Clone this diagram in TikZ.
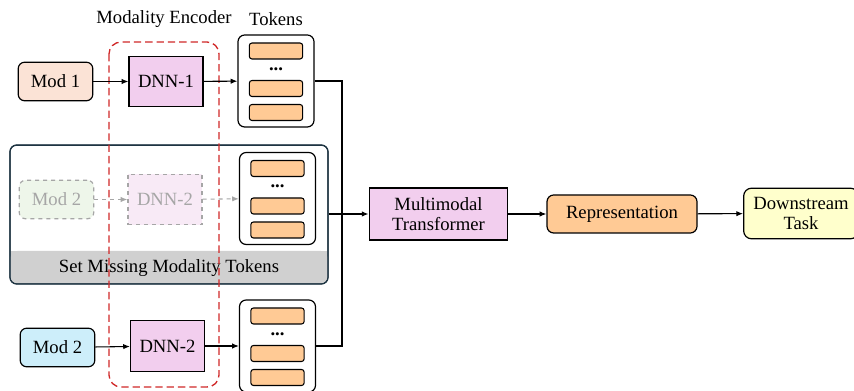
\documentclass[tikz,border=0pt]{standalone}
\usepackage{fontspec}
\setmainfont{Liberation Serif}
\usetikzlibrary{arrows.meta}
\definecolor{modpeach}{HTML}{FBE3D6}
\definecolor{modblue}{HTML}{CDEEFA}
\definecolor{modgreen}{HTML}{EEF6EA}
\definecolor{dnnpink}{HTML}{F2CEEE}
\definecolor{dnnfade}{HTML}{F8EAF6}
\definecolor{tokorange}{HTML}{FFCA95}
\definecolor{taskyellow}{HTML}{FFFFCC}
\definecolor{bandgray}{HTML}{D0D0D0}
\definecolor{panelline}{HTML}{1E3442}
\definecolor{encred}{HTML}{D02828}
\definecolor{fadegray}{HTML}{A6A6A6}
\begin{document}
\begin{tikzpicture}[x=0.75pt, y=-0.75pt,
        every node/.style={font=\rmfamily\fontsize{14}{15}\selectfont},
        mod/.style={draw, line width=0.9pt, rounded corners=5pt, minimum width=56pt, minimum height=29pt},
        dnn/.style={draw, line width=0.9pt, fill=dnnpink, minimum width=55.5pt, minimum height=38pt},
        tokbox/.style={draw, line width=0.9pt, fill=white, rounded corners=5pt, minimum width=57pt, minimum height=69pt},
        tok/.style={draw, line width=0.8pt, fill=tokorange, rounded corners=2pt, minimum width=40pt, minimum height=12pt, inner sep=0pt},
        faded/.style={draw=fadegray, dashed, text=fadegray},
        arr/.style={-{Latex[length=5pt, width=4pt]}, line width=0.8pt}]
    \useasboundingbox (0,0) rectangle (854,391);
    % missing modality panel
    \node (panel) [draw=panelline, line width=0.9pt, fill=white, rounded corners=5pt, minimum width=238.5pt, minimum height=104pt] at (169,214.5) {};
    \fill[bandgray, rounded corners=5pt] (10.6,251) rectangle (327.4,283.4);
    \fill[bandgray] (10.6,251) rectangle (327.4,265);
    \draw[panelline, line width=0.9pt, rounded corners=5pt] (10,145) rectangle (328,284);
    \node (band) at (169,268) {Set Missing Modality Tokens};
    % encoder box
    \draw[encred, line width=1pt, dash pattern=on 5.5pt off 3pt, rounded corners=9pt] (109,42) rectangle (219,387);
    \node (enclabel) at (164,19) {Modality Encoder};
    \node (toklabel) at (276,19) {Tokens};
    % inputs and encoders
    \node (modA) [mod, fill=modpeach] at (55.5,81.5) {Mod 1};
    \node (dnnA) [dnn] at (166,81.5) {DNN-1};
    \node (modB) [mod, faded, fill=modgreen] at (56.5,199.5) {Mod 2};
    \node (dnnB) [dnn, faded, fill=dnnfade] at (165,199.5) {DNN-2};
    \node (modC) [mod, fill=modblue] at (57.5,347.5) {Mod 2};
    \node (dnnC) [dnn] at (167.5,346) {DNN-2};
    % token stacks
    \foreach \n/\x/\y in {tokA/276/81, tokB/277.5/198.5, tokC/277.5/346} {
        \node (\n) [tokbox] at (\x,\y) {};
        \node (\n1) [tok] at (\x,\y-30) {};
        \node (\n d) [inner sep=0pt] at (\x,\y-12) {\textbf{...}};
        \node (\n2) [tok] at (\x,\y+7.5) {};
        \node (\n3) [tok] at (\x,\y+31.5) {};
    }
    % fusion
    \node (trans) [draw, line width=0.9pt, fill=dnnpink, minimum width=104pt, minimum height=39pt, align=center, inner sep=1pt] at (438.5,214) {Multimodal\\Transformer};
    \node (repr) [draw, line width=0.9pt, fill=tokorange, rounded corners=5pt, minimum width=112.5pt, minimum height=28.5pt] at (622,214) {Representation};
    \node (task) [draw, line width=0.9pt, fill=taskyellow, rounded corners=6pt, minimum width=86pt, minimum height=38pt, align=center, inner sep=1pt] at (801,213.5) {Downstream\\Task};
    \coordinate (busT) at (342,81);
    \coordinate (busB) at (342,346);
    % connectors
    \draw[arr] (modA) -- (dnnA);
    \draw[arr] (dnnA) -- (tokA);
    \draw[arr, fadegray, dashed] (modB) -- (dnnB);
    \draw[arr, fadegray, dashed] (dnnB) -- (tokB);
    \draw[arr] (modC) -- (dnnC);
    \draw[arr] (dnnC) -- (tokC);
    \draw[line width=0.8pt] (tokA) -- (busT) -- (busB) -- (tokC);
    \draw[arr] (panel.east |- trans.west) -- (trans);
    \draw[arr] (trans) -- (repr);
    \draw[arr] (repr) -- (task);
\end{tikzpicture}
\end{document}
